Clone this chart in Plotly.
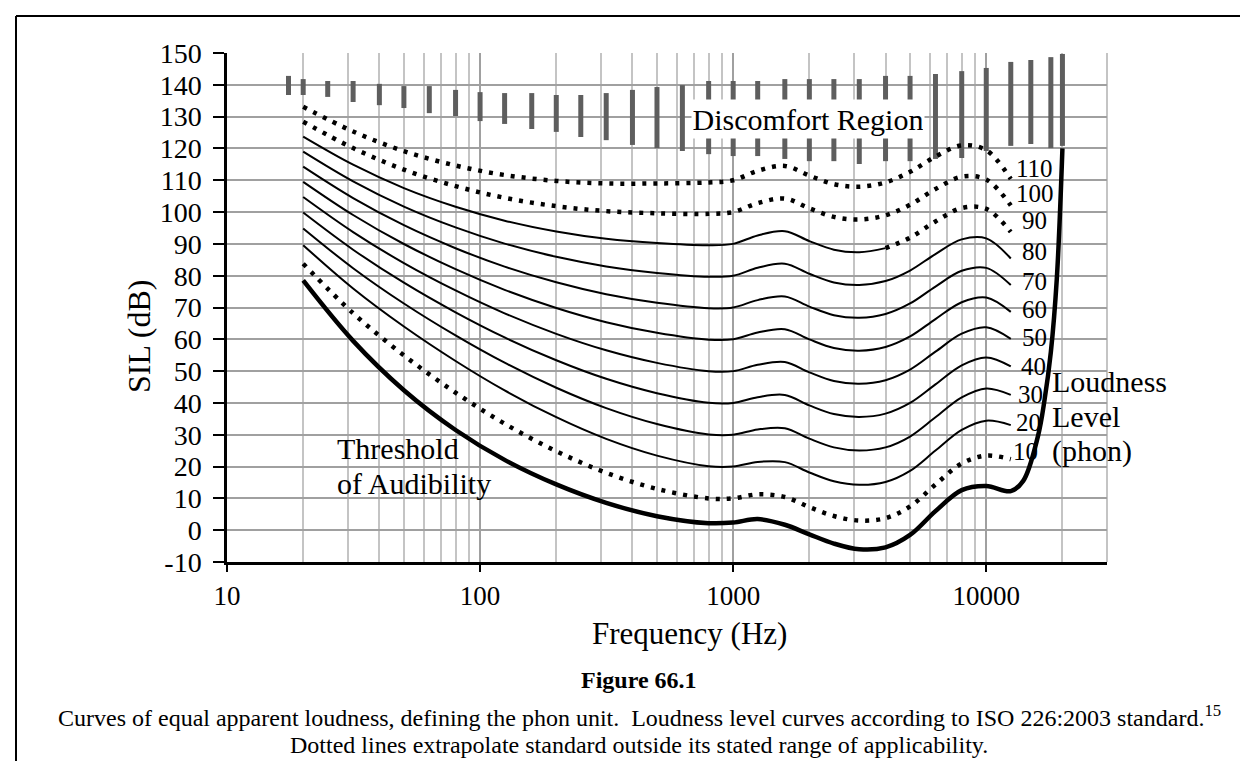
import plotly.graph_objects as go

# ---------------- data ----------------
freqs = [20, 31.5, 50, 80, 125, 200, 315, 500, 800, 1000, 1250, 1600, 2000,
         2500, 3150, 4000, 5000, 6300, 8000, 10000, 12500]

phon_10 = [83.75, 68.21, 54.96, 43.24, 33.48, 24.84, 18.05, 12.98, 9.99, 10.00, 11.26, 10.43, 7.27, 4.45, 3.04, 3.79, 7.46, 14.35, 20.98, 23.43, 22.32]
phon_20 = [89.58, 75.98, 64.02, 53.19, 43.94, 35.51, 28.69, 23.43, 20.10, 20.01, 21.46, 21.40, 18.15, 15.38, 14.25, 15.14, 18.63, 25.02, 31.52, 34.43, 33.04]
phon_30 = [94.85, 82.36, 71.26, 61.22, 52.64, 44.78, 38.37, 33.37, 30.11, 30.00, 31.65, 32.04, 28.76, 26.03, 25.04, 26.02, 29.43, 35.48, 41.74, 44.57, 42.55]
phon_40 = [99.85, 88.17, 77.79, 68.48, 60.59, 53.41, 47.58, 43.05, 40.06, 40.01, 41.82, 42.51, 39.23, 36.51, 35.61, 36.65, 40.01, 45.83, 51.80, 54.28, 51.49]
phon_50 = [104.72, 93.70, 83.96, 75.36, 68.17, 61.72, 56.55, 52.59, 49.98, 50.00, 51.99, 52.88, 49.62, 46.91, 46.05, 47.15, 50.48, 56.11, 61.76, 63.78, 60.14]
phon_60 = [109.51, 99.08, 89.96, 82.05, 75.56, 69.86, 65.39, 62.05, 59.89, 60.00, 62.15, 63.19, 59.96, 57.25, 56.42, 57.57, 60.89, 66.36, 71.66, 73.15, 68.63]
phon_70 = [114.26, 104.38, 95.87, 88.64, 82.85, 77.91, 74.16, 71.47, 69.78, 70.00, 72.32, 73.47, 70.28, 67.58, 66.76, 67.95, 71.26, 76.59, 81.54, 82.46, 77.04]
phon_80 = [118.99, 109.65, 101.72, 95.17, 90.09, 85.92, 82.90, 80.87, 79.67, 80.00, 82.49, 83.74, 80.59, 77.89, 77.08, 78.31, 81.62, 86.81, 91.41, 91.74, 85.41]
phon_90 = [123.70, 114.88, 107.54, 101.67, 97.29, 93.89, 91.60, 90.24, 89.55, 90.00, 92.65, 94.00, 90.88, 88.18, 87.38, 88.66, 91.96, 97.02, 101.26, 100.99, 93.75]
phon_100 = [128.41, 120.11, 113.35, 108.16, 104.48, 101.85, 100.30, 99.62, 99.44, 100.00, 102.81, 104.25, 101.18, 98.48, 97.67, 99.00, 102.30, 107.23, 111.11, 110.23, 102.08]
phon_110 = [133.12, 125.33, 119.15, 114.63, 111.65, 109.79, 108.99, 108.99, 109.32, 110.00, 112.97, 114.50, 111.47, 108.77, 107.97, 109.34, 112.64, 117.44, 120.96, 119.46, 110.39]

threshold_freqs = [20, 31.5, 50, 80, 125, 200, 315, 500, 800, 1000, 1250, 1600, 2000,
                   2500, 3150, 4000, 5000, 6300, 8000, 10000, 12500, 14000, 16000,
                   17000, 18000, 19000, 20000]
threshold = [78.5, 59.5, 44.0, 31.5, 22.1, 14.4, 8.6, 4.4, 2.2, 2.4, 3.5, 1.7, -1.3,
             -4.2, -6.0, -5.4, -1.5, 6.0, 12.6, 13.9, 12.3, 15.5, 29.5, 41.0, 56.0,
             79.0, 120.0]

discomfort_freqs = [17.5, 20, 25, 31.5, 40, 50, 63, 80, 100, 125, 160, 200, 250, 315,
                    400, 500, 630, 800, 1000, 1250, 1600, 2000, 2500, 3150, 4000, 5000,
                    6300, 8000, 10000, 12500, 15000, 18000, 20000]
discomfort_high = [142.8, 141.8, 141.2, 141.2, 140.3, 139.6, 139.6, 138.4, 137.7, 137.4,
                   137.4, 136.8, 136.8, 137.4, 138.4, 139.3, 139.9, 141.2, 141.2, 141.2,
                   141.8, 141.8, 141.8, 141.8, 142.8, 142.8, 143.4, 144.3, 145.3, 147.2,
                   147.8, 148.7, 149.7]
discomfort_low = [136.8, 136.8, 136.2, 134.6, 133.6, 132.7, 131.1, 130.2, 128.6, 127.7,
                  126.1, 125.2, 123.6, 122.6, 121.1, 120.1, 119.2, 118.2, 117.6, 117.6,
                  116.7, 116.0, 116.0, 115.1, 116.0, 116.0, 116.7, 117.0, 119.2, 120.8,
                  121.4, 120.1, 120.8]

x_tick_values = [10, 100, 1000, 10000]
x_tick_labels = ["10", "100", "1000", "10000"]
y_tick_values = [-10, 0, 10, 20, 30, 40, 50, 60, 70, 80, 90, 100, 110, 120, 130, 140, 150]
y_tick_labels = ["-10", "0", "10", "20", "30", "40", "50", "60", "70", "80", "90", "100",
                 "110", "120", "130", "140", "150"]
phon_labels = ["110", "100", "90", "80", "70", "60", "50", "40", "30", "20", "10"]

# ---------------- layout geometry (pixels) ----------------
W, H = 1248, 761
L, R, T, B = 219, 1099, 45, 554
PW, PH = R - L, B - T


def px(xp):
    return (xp - L) / PW


def py(yp):
    return (B - yp) / PH


FONT = "Liberation Serif"
fig = go.Figure()

# discomfort bars
bx, by = [], []
for f, lo, hi in zip(discomfort_freqs, discomfort_low, discomfort_high):
    bx += [f, f, None]
    by += [lo, hi, None]
fig.add_trace(go.Scatter(x=bx, y=by, mode="lines", line=dict(color="#5e5e5e", width=5),
                         hoverinfo="skip", showlegend=False))

DOT = "4px,7px"
solid_curves = [phon_20, phon_30, phon_40, phon_50, phon_60, phon_70, phon_80]
for c in solid_curves:
    fig.add_trace(go.Scatter(x=freqs, y=c, mode="lines", line=dict(color="black", width=2, shape="spline"),
                             showlegend=False))

# 90 phon: solid up to 4 kHz, dotted beyond
i4k = freqs.index(4000)
fig.add_trace(go.Scatter(x=freqs[:i4k + 1], y=phon_90[:i4k + 1], mode="lines",
                         line=dict(color="black", width=2, shape="spline"), showlegend=False))
fig.add_trace(go.Scatter(x=freqs[i4k:], y=phon_90[i4k:], mode="lines",
                         line=dict(color="black", width=4.5, shape="spline", dash=DOT), showlegend=False))
for c in [phon_10, phon_100, phon_110]:
    fig.add_trace(go.Scatter(x=freqs, y=c, mode="lines",
                             line=dict(color="black", width=4.5, shape="spline", dash=DOT), showlegend=False))

fig.add_trace(go.Scatter(x=threshold_freqs, y=threshold, mode="lines",
                         line=dict(color="black", width=4.5, shape="spline"), showlegend=False))

# ---------------- annotations ----------------
ann = []
label_pos = [(1006, 160), (1006, 186), (1012, 213), (1012, 243), (1012, 273), (1012, 301),
             (1012, 329), (1011, 358), (1008, 386), (1006, 414), (1003, 443)]
for t, (xp, yp) in zip(phon_labels, label_pos):
    ann.append(dict(text=t, x=px(xp), y=py(yp), xanchor="left", yanchor="middle",
                    font=dict(size=25)))

ann.append(dict(text="Discomfort Region", x=px(800), y=py(111), xanchor="center", yanchor="middle",
                width=230, height=36, bgcolor="white", font=dict(size=30)))
for t, yp in [("Threshold", 440), ("of Audibility", 475)]:
    ann.append(dict(text=t, x=px(327), y=py(yp), xanchor="left", yanchor="middle",
                    font=dict(size=30)))
for t, yp in [("Loudness", 373), ("Level", 408), ("(phon)", 443)]:
    ann.append(dict(text=t, x=px(1042), y=py(yp), xanchor="left", yanchor="middle",
                    font=dict(size=30)))
ann.append(dict(text="SIL (dB)", x=px(131), y=py(329), textangle=-90, xanchor="center",
                yanchor="middle", font=dict(size=32)))
ann.append(dict(text="Frequency (Hz)", x=px(681), y=py(625), xanchor="center",
                yanchor="middle", font=dict(size=31)))
ann.append(dict(text="<b>Figure 66.1</b>", x=px(631), y=py(672), xanchor="center",
                yanchor="middle", font=dict(size=24)))
ann.append(dict(text="Curves of equal apparent loudness, defining the phon unit.&nbsp; Loudness level "
                     "curves according to ISO 226:2003 standard.<sup>15</sup>",
                x=px(631), y=py(708), xanchor="center", yanchor="middle", font=dict(size=24)))
ann.append(dict(text="Dotted lines extrapolate standard outside its stated range of applicability.",
                x=px(631), y=py(737), xanchor="center", yanchor="middle", font=dict(size=24)))
for a in ann:
    a.update(xref="paper", yref="paper", showarrow=False)
    a["font"].update(family=FONT, color="black")

shapes = [
    dict(type="line", xref="paper", yref="paper", x0=px(8), x1=px(8), y0=py(8), y1=py(761),
         line=dict(color="black", width=2)),
    dict(type="line", xref="paper", yref="paper", x0=px(8), x1=px(1248), y0=py(8), y1=py(8),
         line=dict(color="black", width=2)),
    dict(type="line", xref="paper", yref="paper", x0=1, x1=1, y0=0, y1=1,
         line=dict(color="#c4c4c4", width=2), layer="below"),
]

fig.update_layout(
    width=W, height=H,
    margin=dict(l=L, r=W - R, t=T, b=H - B, autoexpand=False),
    paper_bgcolor="white", plot_bgcolor="white",
    font=dict(family=FONT, color="black"),
    annotations=ann, shapes=shapes, showlegend=False,
)
fig.update_xaxes(
    type="log", range=[1, 4.47712],
    tickvals=x_tick_values, ticktext=x_tick_labels,
    tickfont=dict(family=FONT, size=27, color="black"),
    ticks="outside", ticklen=7, tickwidth=2, tickcolor="black", ticklabelstandoff=1,
    showline=True, linecolor="black", linewidth=2.5,
    showgrid=True, gridcolor="#a0a0a0", gridwidth=2,
    minor=dict(dtick="D1", showgrid=True, gridcolor="#c4c4c4", gridwidth=2, ticks=""),
    zeroline=False,
)
fig.update_yaxes(
    range=[-10, 150], tickvals=y_tick_values, ticktext=y_tick_labels,
    tickfont=dict(family=FONT, size=28, color="black"),
    ticks="outside", ticklen=11, tickwidth=2, tickcolor="black", ticklabelstandoff=6,
    showline=True, linecolor="black", linewidth=2.5,
    showgrid=True, gridcolor="#a0a0a0", gridwidth=2,
    zeroline=False,
)

fig.write_html("out.html")
